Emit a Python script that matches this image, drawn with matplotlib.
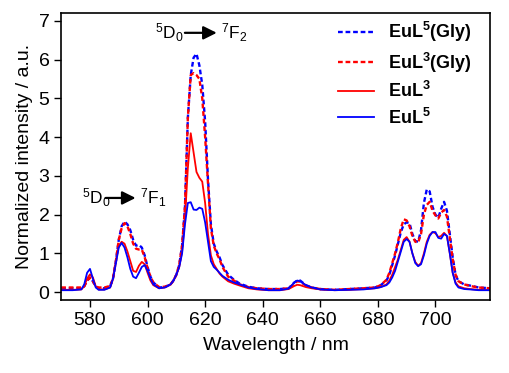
import matplotlib
matplotlib.use("Agg")
import matplotlib.pyplot as plt

plt.rcParams["font.family"] = ["Liberation Sans", "DejaVu Sans"]
plt.rcParams["mathtext.default"] = "regular"

# Длина волны, нм
wl = [570, 574, 577, 578, 579, 580, 581, 582, 583, 585,
      587, 588, 589, 590, 591, 592, 593, 594, 595, 596,
      597, 598, 599, 600, 601, 602, 604, 606, 608, 609,
      610, 611, 612, 613, 614, 615, 616, 617, 618, 619,
      620, 621, 622, 623, 624, 625, 626, 628, 630, 632,
      635, 638, 642, 646, 649, 651, 652, 653, 655, 657,
      660, 665, 670, 675, 679, 681, 683, 684, 685, 686,
      687, 688, 689, 690, 691, 692, 693, 694, 695, 696,
      697, 698, 699, 700, 701, 702, 703, 704, 705, 706,
      707, 708, 710, 712, 715, 719]

# EuL5 (Gly)
eul5_gly = [0.1, 0.1, 0.1, 0.15, 0.3, 0.38, 0.28, 0.14, 0.1, 0.1,
            0.15, 0.35, 0.8, 1.35, 1.7, 1.82, 1.75, 1.6, 1.35, 1.2,
            1.22, 1.15, 0.95, 0.65, 0.4, 0.25, 0.12, 0.13, 0.2, 0.3,
            0.45, 0.7, 1.2, 2.2, 4.5, 5.6, 6.05, 6.15, 5.85, 5.35,
            4.4, 2.9, 1.75, 1.25, 1.05, 0.9, 0.7, 0.45, 0.32, 0.22,
            0.14, 0.1, 0.08, 0.08, 0.1, 0.25, 0.3, 0.3, 0.18, 0.12,
            0.08, 0.06, 0.08, 0.1, 0.12, 0.18, 0.3, 0.45, 0.7, 0.95,
            1.25, 1.55, 1.75, 1.8, 1.78, 1.5, 1.32, 1.3, 1.6, 2.3,
            2.65, 2.6, 2.2, 2.0, 1.92, 2.15, 2.33, 2.1, 1.5, 0.9,
            0.45, 0.28, 0.2, 0.17, 0.12, 0.1]

# EuL3 (Gly)
eul3_gly = [0.12, 0.12, 0.12, 0.15, 0.3, 0.37, 0.28, 0.15, 0.12, 0.12,
            0.16, 0.35, 0.8, 1.35, 1.65, 1.78, 1.7, 1.5, 1.25, 1.12,
            1.1, 1.1, 0.9, 0.62, 0.4, 0.25, 0.13, 0.14, 0.2, 0.3,
            0.45, 0.7, 1.2, 2.2, 4.5, 5.6, 5.65, 5.6, 5.5, 5.0,
            4.0, 2.8, 1.65, 1.2, 1.0, 0.85, 0.65, 0.4, 0.3, 0.2,
            0.13, 0.1, 0.08, 0.08, 0.1, 0.22, 0.28, 0.27, 0.17, 0.12,
            0.08, 0.06, 0.08, 0.1, 0.12, 0.18, 0.32, 0.5, 0.75, 1.0,
            1.3, 1.65, 1.88, 1.85, 1.7, 1.45, 1.3, 1.28, 1.5, 2.0,
            2.25, 2.33, 2.1, 1.98, 1.9, 2.05, 2.12, 1.95, 1.4, 0.85,
            0.45, 0.28, 0.2, 0.16, 0.12, 0.1]

# EuL3
eul3 = [0.06, 0.06, 0.07, 0.15, 0.35, 0.46, 0.38, 0.15, 0.07, 0.07,
        0.12, 0.35, 0.8, 1.2, 1.3, 1.25, 1.05, 0.8, 0.55, 0.52,
        0.68, 0.78, 0.72, 0.5, 0.3, 0.18, 0.1, 0.12, 0.2, 0.3,
        0.45, 0.65, 1.05, 1.9, 3.2, 4.1, 3.6, 3.1, 2.95, 2.85,
        2.3, 1.5, 0.95, 0.72, 0.6, 0.48, 0.4, 0.28, 0.22, 0.17,
        0.1, 0.07, 0.05, 0.05, 0.08, 0.16, 0.19, 0.18, 0.13, 0.1,
        0.07, 0.05, 0.06, 0.08, 0.1, 0.13, 0.2, 0.3, 0.45, 0.65,
        0.85, 1.1, 1.35, 1.42, 1.3, 1.0, 0.78, 0.68, 0.75, 1.0,
        1.3, 1.48, 1.55, 1.52, 1.42, 1.45, 1.53, 1.45, 1.0, 0.5,
        0.25, 0.15, 0.1, 0.08, 0.06, 0.05]

# EuL5
eul5 = [0.05, 0.05, 0.07, 0.2, 0.5, 0.6, 0.35, 0.12, 0.06, 0.06,
        0.12, 0.35, 0.75, 1.15, 1.27, 1.15, 0.9, 0.6, 0.4, 0.36,
        0.5, 0.65, 0.7, 0.55, 0.35, 0.2, 0.1, 0.12, 0.2, 0.3,
        0.45, 0.65, 1.0, 1.75, 2.3, 2.32, 2.13, 2.12, 2.18, 2.15,
        1.8, 1.3, 0.8, 0.65, 0.58, 0.5, 0.42, 0.32, 0.25, 0.2,
        0.12, 0.08, 0.05, 0.05, 0.09, 0.25, 0.3, 0.28, 0.18, 0.12,
        0.07, 0.05, 0.06, 0.07, 0.1, 0.13, 0.18, 0.25, 0.38, 0.55,
        0.8, 1.05, 1.3, 1.37, 1.3, 1.0, 0.75, 0.67, 0.72, 0.95,
        1.25, 1.45, 1.55, 1.55, 1.4, 1.38, 1.5, 1.45, 1.0, 0.5,
        0.22, 0.12, 0.08, 0.07, 0.05, 0.05]

fig = plt.figure(figsize=(5.1, 3.73), dpi=100)
ax = fig.add_axes([0.12, 0.196, 0.841, 0.769])

dash = (0, (2, 1.2))
ax.plot(wl, eul5_gly, color="#0000ff", lw=1.7, ls=dash, label="EuL$^5$(Gly)")
ax.plot(wl, eul3_gly, color="#ff0000", lw=1.7, ls=dash, label="EuL$^3$(Gly)")
ax.plot(wl, eul3, color="#ff0000", lw=1.3, label="EuL$^3$")
ax.plot(wl, eul5, color="#0000ff", lw=1.3, label="EuL$^5$")

ax.set_xlim(570, 719)
ax.set_ylim(-0.2, 7.2)
ax.set_xticks(range(580, 701, 20))
ax.set_yticks(range(0, 8))
ax.tick_params(direction="out", length=5, width=1, labelsize=14)
for s in ax.spines.values():
    s.set_linewidth(1.2)

ax.set_xlabel("Wavelength / nm", fontsize=14, labelpad=6)
ax.set_ylabel("Normalized intensity / a.u.", fontsize=14, labelpad=4)

# Переходы
ax.text(602.5, 6.69, "$^5$D$_0$", fontsize=12.5, va="center", ha="left")
ax.annotate("", xy=(625.0, 6.69), xytext=(612.0, 6.69),
            arrowprops=dict(arrowstyle="-|>", color="black", lw=1.6, mutation_scale=20))
ax.text(625.4, 6.69, "$^7$F$_2$", fontsize=12.5, va="center", ha="left")

ax.text(577.2, 2.43, "$^5$D$_0$", fontsize=12.5, va="center", ha="left")
ax.annotate("", xy=(596.8, 2.43), xytext=(584.5, 2.43),
            arrowprops=dict(arrowstyle="-|>", color="black", lw=1.6, mutation_scale=20))
ax.text(597.3, 2.43, "$^7$F$_1$", fontsize=12.5, va="center", ha="left")

leg = ax.legend(loc="upper right", bbox_to_anchor=(0.975, 1.0), frameon=False,
                handlelength=2.0, handletextpad=0.8, labelspacing=0.35,
                prop={"weight": "bold", "size": 13}, borderaxespad=0.0)

fig.savefig("out.png", dpi=100)
